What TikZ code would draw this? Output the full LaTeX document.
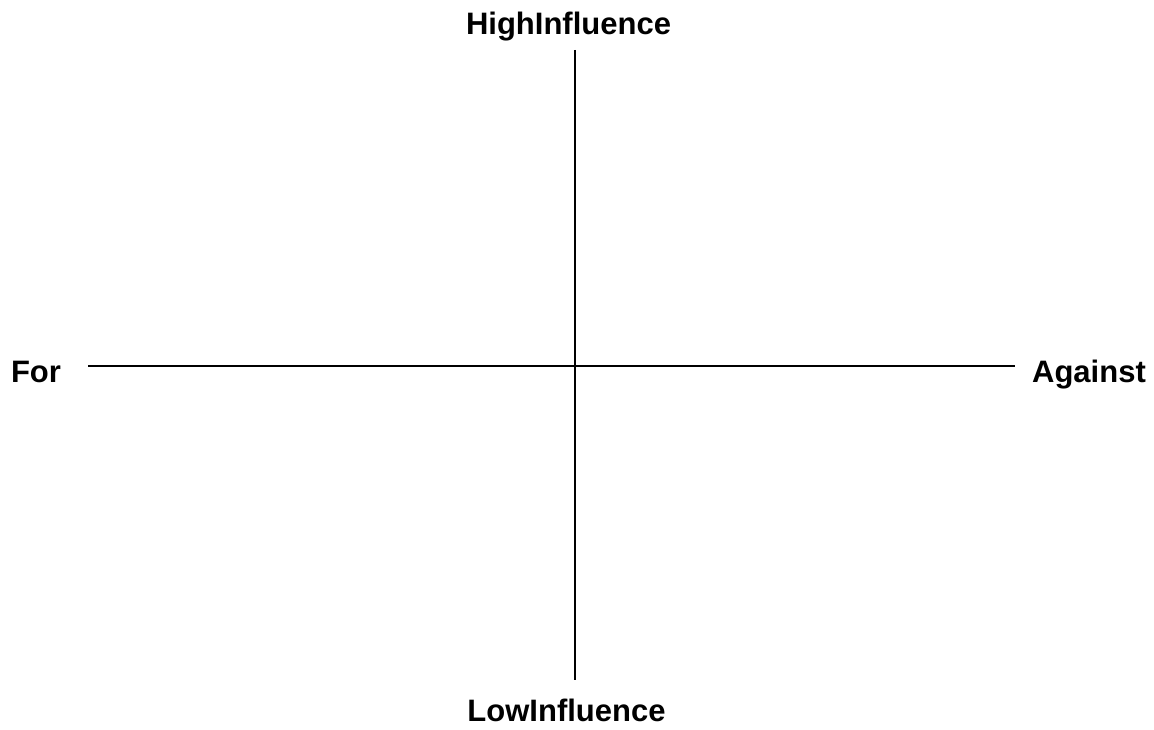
\documentclass[tikz,border=0pt]{standalone}
\usepackage{fontspec}
\setmainfont{Liberation Sans}
\begin{document}
\begin{tikzpicture}[x=1pt,y=-1pt,
  lbl/.style={inner sep=0pt,anchor=base,font=\fontsize{31}{36}\selectfont\bfseries},
  axis/.style={line width=2pt,black}]
\useasboundingbox (0,0) rectangle (1154,730);
\coordinate (top) at (575,50);
\coordinate (bot) at (575,680);
\coordinate (lft) at (88,366);
\coordinate (rgt) at (1015,366);
\draw[axis] (top) -- (bot);
\draw[axis] (lft) -- (rgt);
\node[lbl] (hi) at (568.5,35) {HighInfluence};
\node[lbl] (lo) at (566.5,721) {LowInfluence};
\node[lbl] (for) at (36,382) {For};
\node[lbl] (ag) at (1089,382) {Against};
\end{tikzpicture}
\end{document}
